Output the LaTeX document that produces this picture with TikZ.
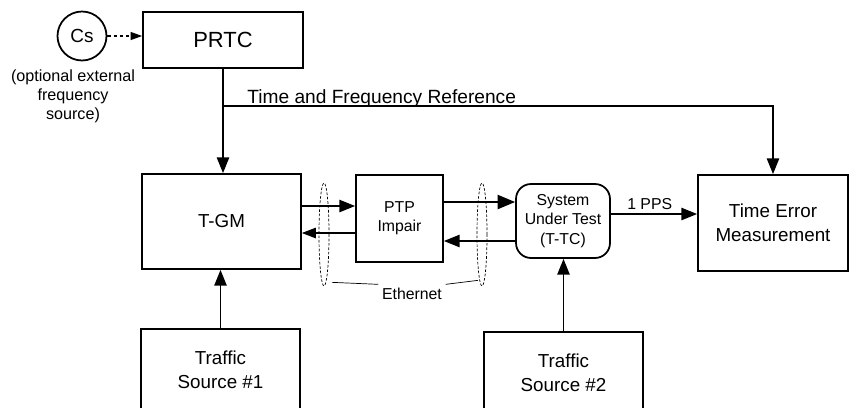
\documentclass[tikz,border=0pt]{standalone}
\usepackage{fontspec}
\setmainfont{Liberation Sans}
\usetikzlibrary{arrows.meta,shapes.geometric}

\tikzstyle{block}=[draw,line width=1pt,align=center,inner sep=0pt,font=\fontsize{10.7}{13.6}\selectfont]
\tikzstyle{small block}=[block,font=\fontsize{9}{11}\selectfont]
\tikzstyle{link}=[draw,line width=1pt,-{Triangle[length=9pt,width=7pt]}]
\tikzstyle{thin link}=[draw,line width=0.6pt,-{Triangle[length=8pt,width=6pt]}]
\tikzstyle{bundle}=[ellipse,draw,line width=0.4pt,dash pattern=on 1.5pt off 1pt,minimum width=0.2cm,minimum height=2.06cm,inner sep=0pt]
\tikzstyle{caption}=[font=\fontsize{9}{11}\selectfont,inner sep=2pt]

\begin{document}
\begin{tikzpicture}[x=0.02cm,y=-0.02cm]
\useasboundingbox (0,0) rectangle (849,407);
% boxes
\node[block,minimum width=3.2cm,minimum height=1.12cm,font=\fontsize{12.5}{15}\selectfont] (PRTC) at (223,40) {PRTC};
\node[circle,draw,line width=1pt,minimum size=0.98cm,inner sep=0pt,font=\fontsize{10.8}{13}\selectfont] (Cs) at (82,36) {Cs};
\node[align=center,font=\fontsize{9.2}{10.8}\selectfont] (CsNote) at (73,96) {(optional external\\frequency\\source)};
\node[block,minimum width=3.18cm,minimum height=1.9cm] (TGM) at (221.5,221.5) {T-GM};
\node[small block,minimum width=1.74cm,minimum height=1.74cm] (PTP) at (399.5,218.5) {PTP\\Impair};
\node[small block,rounded corners=0.3cm,minimum width=1.88cm,minimum height=1.48cm] (SUT) at (563,221) {System\\Under Test\\(T-TC)};
\node[block,minimum width=3cm,minimum height=1.92cm] (TEM) at (773,223) {Time Error\\Measurement};
\node[block,minimum width=3.18cm,minimum height=1.64cm] (TS1) at (220.5,370) {Traffic\\Source \#1};
\node[block,minimum width=3.18cm,minimum height=1.64cm] (TS2) at (563.5,373) {Traffic\\Source \#2};
% ethernet bundles
\node[bundle] (eth1) at (324,234.5) {};
\node[bundle] (eth2) at (482,234.5) {};
\node[caption] (ethlabel) at (412,294) {Ethernet};
\path[draw,line width=0.4pt] ([xshift=0.16cm,yshift=0.08cm]eth1.south) -- (ethlabel.north west);
\path[draw,line width=0.4pt] (ethlabel.north east) -- ([xshift=-0.08cm,yshift=0.12cm]eth2.south);
% reference distribution
\coordinate (split) at (PRTC.south |- 0,106);
\path[draw,line width=0.6pt,dash pattern=on 2pt off 1.5pt,-{Triangle[length=6.5pt,width=4.5pt]}] (Cs.east) -- (Cs.east -| PRTC.west);
\path[link] (PRTC.south) -- (PRTC.south |- TGM.north);
\path[link] (split) -| (TEM.north);
\node[anchor=base west,inner sep=0pt,font=\fontsize{10.9}{13}\selectfont] (tfref) at (247,103) {Time and Frequency Reference};
% packet paths
\path[link] ([yshift=0.31cm]TGM.east) -- ([yshift=0.31cm]TGM.east -| PTP.west);
\path[thin link] ([yshift=-0.23cm]TGM.east -| PTP.west) -- ([yshift=-0.23cm]TGM.east);
\path[draw,line width=1.3pt,-{Triangle[length=10pt,width=8pt]}] ([yshift=0.33cm]PTP.east) -- ([yshift=0.33cm]PTP.east -| SUT.west);
\path[link] ([yshift=-0.45cm]PTP.east -| SUT.west) -- ([yshift=-0.45cm]PTP.east);
\path[link] ([yshift=0.14cm]SUT.east) -- node[caption,above,pos=0.45] (pps) {1 PPS} ([yshift=0.14cm]SUT.east -| TEM.west);
% traffic
\path[link] (TS1.north) -- (TS1.north |- TGM.south);
\path[link] (TS2.north) -- (TS2.north |- SUT.south);
\end{tikzpicture}
\end{document}
